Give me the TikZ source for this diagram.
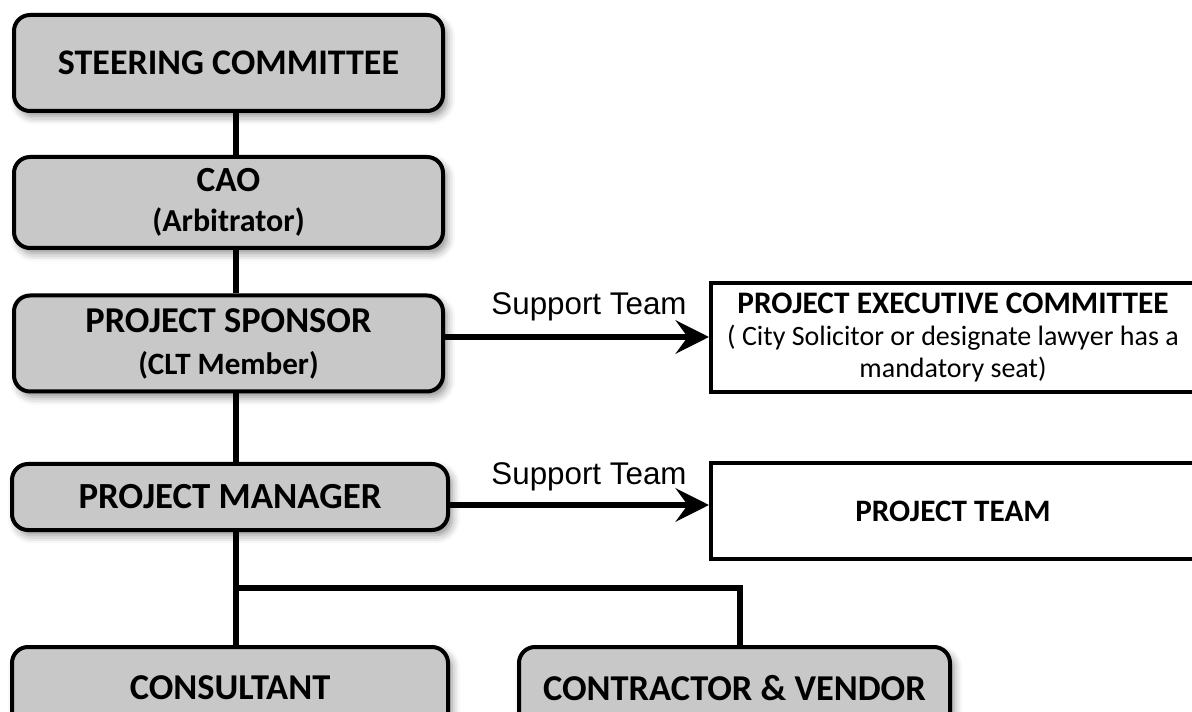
\documentclass[tikz,border=0pt]{standalone}
\usepackage{fontspec}
\setmainfont{Carlito}
\newfontfamily\labelfont{Liberation Sans}
\usetikzlibrary{arrows.meta,shadows.blur}
\definecolor{boxgray}{HTML}{C8C8C8}

\begin{document}
\begin{tikzpicture}[x=0.75pt,y=-0.75pt,
  role/.style={draw=black, line width=3pt, fill=boxgray, rounded corners=12pt,
    blur shadow={shadow xshift=3pt, shadow yshift=-4pt, shadow blur radius=6pt, shadow opacity=45},
    align=center, inner sep=0pt},
  team/.style={draw=black, line width=3pt, fill=white, align=center, inner sep=0pt},
  link/.style={line width=4pt},
  support/.style={line width=4.5pt, -{Stealth[length=25pt,width=25pt,inset=9pt]}},
  supportlabel/.style={anchor=base, inner sep=0pt, font=\labelfont\fontsize{23.5}{26}\selectfont},
]
\useasboundingbox (0,0) rectangle (1192,712);

% hierarchy boxes
\node[role, minimum width=321.75pt, minimum height=72pt,
      font=\bfseries\fontsize{27}{32}\selectfont] (steer) at (228.5,63) {STEERING COMMITTEE};
\node[role, minimum width=321.75pt, minimum height=68.25pt,
      font=\bfseries\fontsize{24}{30.5}\selectfont] (cao) at (228.5,202.5)
      {{\fontsize{26.5}{30.5}\selectfont CAO}\\(Arbitrator)};
\node[role, minimum width=321.75pt, minimum height=72pt,
      font=\bfseries\fontsize{23.3}{31.5}\selectfont] (spons) at (228.5,343.5)
      {{\fontsize{27.3}{31.5}\selectfont PROJECT SPONSOR}\\(CLT Member)};
\node[role, minimum width=327pt, minimum height=49.5pt,
      font=\bfseries\fontsize{27.6}{30}\selectfont] (pm) at (230,497) {PROJECT MANAGER};
\node[role, minimum width=327pt, minimum height=61.5pt,
      font=\bfseries\fontsize{27.3}{30}\selectfont] (cons) at (230,688) {CONSULTANT};
\node[role, minimum width=323.25pt, minimum height=61.5pt,
      font=\bfseries\fontsize{27.3}{30}\selectfont] (cv) at (734.5,688) {CONTRACTOR \& VENDOR};

% support boxes
\node[team, minimum width=363pt, minimum height=81.75pt,
      font=\fontsize{21}{24}\selectfont] (pec) at (953,337.5)
      {{\bfseries\fontsize{23.5}{25}\selectfont PROJECT EXECUTIVE COMMITTEE}\\( City Solicitor or designate lawyer has a\\mandatory seat)};
\node[team, minimum width=363pt, minimum height=71.25pt,
      font=\bfseries\fontsize{23.4}{26}\selectfont] (pt) at (953,511) {PROJECT TEAM};

% reporting lines
\coordinate (spine) at (236,0);
\coordinate (branch) at (236,588);
\coordinate (branchR) at (740,588);
\draw[link] (steer.south -| spine) -- (cao.north -| spine);
\draw[link] (cao.south -| spine) -- (spons.north -| spine);
\draw[link] (spons.south -| spine) -- (pm.north -| spine);
\draw[link] (pm.south -| spine) -- (cons.north -| spine);
\draw[link] (branch) -- (branchR) -- (cv.north -| branchR);

% support arrows
\coordinate (arrowA) at (0,337);
\coordinate (arrowB) at (0,505);
\draw[support] (spons.east |- arrowA) -- (pec.west |- arrowA);
\draw[support] (pm.east |- arrowB) -- (pt.west |- arrowB);
\node[supportlabel] (supA) at (589,315) {Support Team};
\node[supportlabel] (supB) at (589,485) {Support Team};
\end{tikzpicture}
\end{document}
